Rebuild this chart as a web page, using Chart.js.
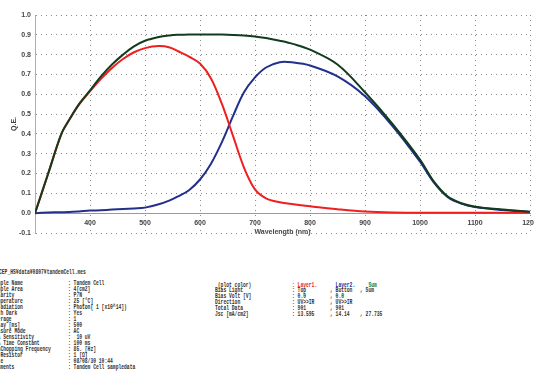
<!DOCTYPE html>
<html><head><meta charset="utf-8">
<script src="https://cdn.jsdelivr.net/npm/chart.js@4/dist/chart.umd.min.js"></script>
<style>
html,body{margin:0;padding:0;background:#fff;width:534px;height:372px;overflow:hidden;position:relative}
#wrap{position:absolute;left:0;top:0;width:534px;height:250px}
.t{position:absolute;font-family:"Liberation Mono","DejaVu Sans Mono",monospace;font-size:7px;font-weight:bold;line-height:7px;white-space:pre;transform:scaleX(0.667);transform-origin:0 50%;color:#333}
</style></head><body>
<div id="wrap"><canvas id="c" width="534" height="250"></canvas></div>
<div id="info"></div>
<script>
// ---- data ----
const wavelengths = [300,324,348,362,380,400,420,440,460,480,500,525,545,560,580,600,620,640,660,680,700,720,745,770,800,850,900,950,1000,1025,1050,1075,1100,1150,1200];
const layer1 = [0,0.20,0.40,0.47,0.548,0.615,0.678,0.733,0.778,0.812,0.833,0.843,0.836,0.817,0.79,0.755,0.68,0.55,0.39,0.23,0.12,0.075,0.055,0.045,0.035,0.02,0.008,0.003,0.002,0.002,0.002,0.002,0.002,0.002,0.002];
const layer2 = [0,0.003,0.005,0.006,0.009,0.013,0.015,0.018,0.021,0.024,0.028,0.045,0.065,0.085,0.116,0.17,0.25,0.36,0.49,0.61,0.685,0.735,0.762,0.76,0.745,0.69,0.59,0.44,0.26,0.155,0.082,0.048,0.031,0.016,0.006];
const sumQE  = [0,0.20,0.40,0.47,0.55,0.62,0.69,0.75,0.80,0.842,0.87,0.889,0.897,0.9,0.902,0.902,0.902,0.901,0.899,0.896,0.891,0.884,0.87,0.853,0.825,0.75,0.61,0.45,0.27,0.16,0.085,0.05,0.033,0.018,0.007];
const xTickValues = [300,400,500,600,700,800,900,1000,1100,1200];
const yTickValues = [-0.1,0,0.1,0.2,0.3,0.4,0.5,0.6,0.7,0.8,0.9,1.0];

const infoPath = "CEP_HS¥data¥0807¥tandemCell.mes";
const infoLabels = ["Sample Name","Sample Area","Polarity","Temperature","Irradiation","With Dark","Average","Delay [ms]","Measure Mode","LIA Sensitivity","LIA Time Constant","LIAChopping Frequency","LI Resistor","Date","Comments"];
const infoValues = [": Tandem Cell",": 4[cm2]",": P/N",": 25 [°C]",": Photon( 1 [x10^14])",": Yes",": 1",": 500",": AC",":  10 uV",": 100 ms",": 85. [Hz]",": 1 [Ω]",": 08/08/30 10:44",": Tandem Cell sampledata"];
const plotLabels = [" (plot color)","Bias Light","Bias Volt [V]","Direction","Total Data","Jsc [mA/cm2]"];
const plotLayer1 = [": Layer1.",": Top",": 0.0",": UV>>IR",": 901",": 13.595"];
const plotLayer2 = ["  Layer2.",", Button",", 0.0",", UV>>IR",", 901",", 14.14"];
const plotSum = ["   Sum",", Sum","","","",", 27.735"];

// ---- chart ----
const pts = arr => wavelengths.map((w,i)=>({x:w,y:arr[i]}));
const tickFont = {family:"'Liberation Sans', Arial, sans-serif", size:7, weight:'bold'};
new Chart(document.getElementById('c'), {
  type:'line',
  data:{datasets:[
    {label:'Sum', data:pts(sumQE), borderColor:'#123c1e', borderWidth:2},
    {label:'Layer1', data:pts(layer1), borderColor:'#f01e1e', borderWidth:2},
    {label:'Layer2', data:pts(layer2), borderColor:'#22308c', borderWidth:2}
  ]},
  options:{
    responsive:false, animation:false, devicePixelRatio:1,
    elements:{point:{radius:0}, line:{tension:0.35}},
    plugins:{legend:{display:false}, tooltip:{enabled:false}},
    layout:{padding:{top:15,right:4,bottom:17,left:0}},
    scales:{
      x:{type:'linear', position:{y:0}, min:300, max:1200,
        afterBuildTicks:s=>{s.ticks = xTickValues.map(v=>({value:v}));},
        afterFit:s=>{s.paddingLeft=0; s.paddingRight=0;},
        ticks:{font:tickFont, color:'#444', padding:6, maxRotation:0, autoSkip:false,
          callback:v=> v===300 ? '' : String(v)},
        grid:{color:'#8a8a8a', lineWidth:1, drawTicks:false},
        border:{display:true, color:'#9a9a9a', width:1, dash:[1,4]},
        title:{display:true, text:'Wavelength (nm)', font:{family:"'Liberation Sans', Arial, sans-serif", size:7, weight:'bold'}, color:'#444', padding:{top:-6,bottom:0}}
      },
      y:{type:'linear', position:'left', min:-0.1, max:1.0,
        afterBuildTicks:s=>{s.ticks = yTickValues.map(v=>({value:v}));},
        afterFit:s=>{s.width=35;},
        ticks:{font:tickFont, color:'#444', padding:4, callback:v=>Number(v).toFixed(1)},
        grid:{color:'#8a8a8a', lineWidth:1, drawTicks:false},
        border:{display:true, color:'#b0b0b0', width:1, dash:[1,4]},
        title:{display:true, text:'Q.E.', font:{family:"'Liberation Sans', Arial, sans-serif", size:7, weight:'bold'}, color:'#444', padding:{top:10,bottom:0}}
      }
    }
  }
});

// ---- info text ----
const info = document.getElementById('info');
function addText(txt, x, yc, color){
  const d = document.createElement('div');
  d.className = 't';
  d.textContent = txt;
  d.style.left = x + 'px';
  d.style.top = (yc - 3.5) + 'px';
  if (color) d.style.color = color;
  info.appendChild(d);
}
addText(infoPath, -1, 272);
infoLabels.forEach((l,i)=>addText(l, -8.4, 283 + i*6.07));
infoValues.forEach((v,i)=>addText(v, 68, 283 + i*6.07));
plotLabels.forEach((l,i)=>addText(l, 215, 285 + i*5.9));
plotLayer1.forEach((v,i)=>addText(v, 292, 285 + i*5.9, i===0 ? '#e82020' : null));
plotLayer2.forEach((v,i)=>addText(v, 330, 285 + i*5.9, i===0 ? '#2a2a9a' : null));
plotSum.forEach((v,i)=>addText(v, 360, 285 + i*5.9, i===0 ? '#1a7a1a' : null));
</script>
</body></html>
